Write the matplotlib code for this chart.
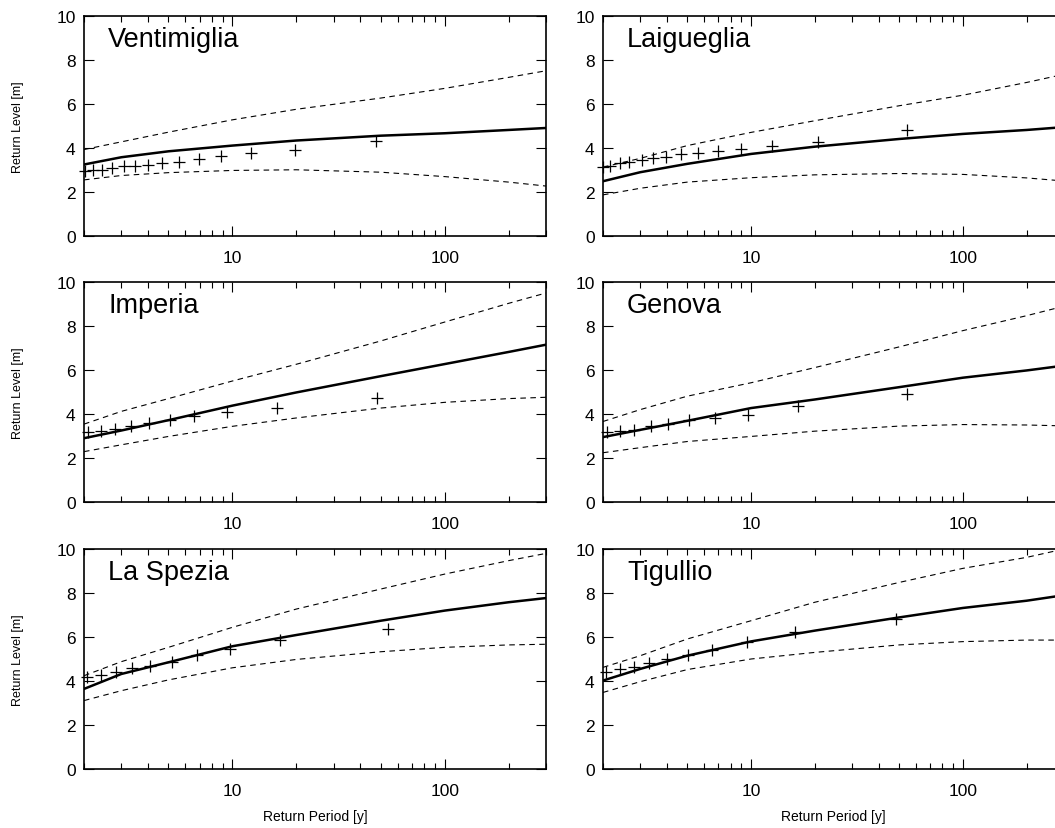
import numpy as np
import matplotlib
matplotlib.use("Agg")
import matplotlib.pyplot as plt
from matplotlib.ticker import LogLocator, FixedLocator, NullFormatter

plt.rcParams["font.family"] = ["Liberation Sans", "DejaVu Sans"]

# return periods at which the fitted curves were read
curve_T = [2, 3, 5, 10, 20, 50, 100, 200, 300]

# Ventimiglia
ventimiglia_T = [2.02, 2.21, 2.44, 2.72, 3.08, 3.49, 4.01, 4.68, 5.61, 6.94, 8.87, 12.3, 19.8, 47.6]
ventimiglia_obs = [2.95, 2.98, 3.02, 3.08, 3.16, 3.20, 3.25, 3.32, 3.38, 3.50, 3.65, 3.78, 3.93, 4.34]
ventimiglia_fit = [3.25, 3.58, 3.85, 4.11, 4.34, 4.56, 4.67, 4.82, 4.91]
ventimiglia_hi = [3.93, 4.28, 4.72, 5.28, 5.76, 6.27, 6.71, 7.21, 7.51]
ventimiglia_lo = [2.55, 2.75, 2.88, 2.98, 3.01, 2.90, 2.70, 2.45, 2.27]

# Laigueglia
laigueglia_T = [2.0, 2.15, 2.40, 2.66, 3.04, 3.46, 3.95, 4.66, 5.61, 6.95, 8.93, 12.6, 20.7, 54.5]
laigueglia_obs = [3.13, 3.20, 3.30, 3.38, 3.45, 3.53, 3.60, 3.71, 3.78, 3.86, 3.96, 4.09, 4.29, 4.82]
laigueglia_fit = [2.49, 2.90, 3.28, 3.73, 4.06, 4.41, 4.64, 4.82, 4.95]
laigueglia_hi = [3.13, 3.53, 4.11, 4.71, 5.24, 5.92, 6.40, 6.98, 7.35]
laigueglia_lo = [1.87, 2.17, 2.45, 2.65, 2.78, 2.84, 2.80, 2.64, 2.50]

# Imperia
imperia_T = [2.09, 2.41, 2.79, 3.32, 4.05, 5.08, 6.62, 9.46, 16.2, 47.9]
imperia_obs = [3.18, 3.25, 3.30, 3.45, 3.59, 3.73, 3.89, 4.08, 4.26, 4.73]
imperia_fit = [2.90, 3.25, 3.72, 4.38, 4.98, 5.72, 6.27, 6.82, 7.15]
imperia_hi = [3.54, 4.12, 4.70, 5.50, 6.26, 7.32, 8.18, 9.03, 9.50]
imperia_lo = [2.29, 2.60, 2.98, 3.44, 3.82, 4.27, 4.53, 4.70, 4.76]

# Genova
genova_T = [2.09, 2.40, 2.80, 3.37, 4.07, 5.11, 6.74, 9.64, 16.6, 54.3]
genova_obs = [3.16, 3.21, 3.28, 3.44, 3.56, 3.71, 3.82, 3.97, 4.35, 4.93]
genova_fit = [2.95, 3.28, 3.69, 4.27, 4.66, 5.22, 5.65, 5.98, 6.20]
genova_hi = [3.66, 4.20, 4.81, 5.42, 6.11, 7.05, 7.79, 8.47, 8.90]
genova_lo = [2.24, 2.47, 2.75, 2.98, 3.22, 3.45, 3.52, 3.50, 3.46]

# La Spezia
laspezia_T = [2.07, 2.41, 2.84, 3.35, 4.08, 5.17, 6.80, 9.71, 16.7, 54.2]
laspezia_obs = [4.17, 4.27, 4.39, 4.59, 4.70, 4.85, 5.20, 5.45, 5.88, 6.36]
laspezia_fit = [3.64, 4.32, 4.85, 5.58, 6.09, 6.74, 7.20, 7.58, 7.77]
laspezia_hi = [4.24, 4.88, 5.53, 6.44, 7.27, 8.18, 8.86, 9.47, 9.80]
laspezia_lo = [3.11, 3.56, 4.05, 4.60, 4.98, 5.33, 5.53, 5.64, 5.67]

# Tigullio
tigullio_T = [2.07, 2.40, 2.80, 3.30, 4.01, 5.03, 6.57, 9.53, 16.1, 48.2]
tigullio_obs = [4.39, 4.55, 4.65, 4.82, 5.00, 5.20, 5.41, 5.76, 6.21, 6.82]
tigullio_fit = [4.02, 4.55, 5.15, 5.80, 6.29, 6.89, 7.32, 7.65, 7.90]
tigullio_hi = [4.62, 5.15, 5.91, 6.74, 7.58, 8.48, 9.12, 9.62, 10.0]
tigullio_lo = [3.48, 3.97, 4.52, 5.00, 5.30, 5.64, 5.79, 5.86, 5.86]

sites = [
    ("Ventimiglia", ventimiglia_T, ventimiglia_obs, ventimiglia_fit, ventimiglia_hi, ventimiglia_lo),
    ("Laigueglia", laigueglia_T, laigueglia_obs, laigueglia_fit, laigueglia_hi, laigueglia_lo),
    ("Imperia", imperia_T, imperia_obs, imperia_fit, imperia_hi, imperia_lo),
    ("Genova", genova_T, genova_obs, genova_fit, genova_hi, genova_lo),
    ("La Spezia", laspezia_T, laspezia_obs, laspezia_fit, laspezia_hi, laspezia_lo),
    ("Tigullio", tigullio_T, tigullio_obs, tigullio_fit, tigullio_hi, tigullio_lo),
]

W, H = 1055, 829
fig = plt.figure(figsize=(W / 100, H / 100), dpi=100)

# panel layout in pixels (right column runs past the image edge, as in the original)
col_left = [84, 603]
col_width = [462, 461]
row_bottom = [237, 503, 770]
ax_h = 220

for i, (name, T, obs, fit, hi, lo) in enumerate(sites):
    r, c = divmod(i, 2)
    ax = fig.add_axes([col_left[c] / W, (H - row_bottom[r]) / H,
                       col_width[c] / W, ax_h / H])
    ax.set_xscale("log")
    ax.set_xlim(2, 300)
    ax.set_ylim(0, 10)

    ax.plot(curve_T, fit, color="black", lw=1.8)
    ax.plot(curve_T, hi, color="black", lw=0.8, linestyle=(0, (5, 4)))
    ax.plot(curve_T, lo, color="black", lw=0.8, linestyle=(0, (5, 4)))
    ax.plot(T, obs, linestyle="none", marker="+", color="black",
            markersize=9, markeredgewidth=0.9, clip_on=False)

    ax.text(0.052, 0.864, name, transform=ax.transAxes, fontsize=19.5,
            ha="left", va="baseline")

    ax.xaxis.set_major_locator(FixedLocator([10, 100]))
    ax.xaxis.set_major_formatter(plt.FuncFormatter(lambda v, p: f"{v:g}"))
    ax.xaxis.set_minor_locator(LogLocator(base=10, subs=np.arange(2, 10)))
    ax.xaxis.set_minor_formatter(NullFormatter())
    ax.set_yticks([0, 2, 4, 6, 8, 10])
    ax.tick_params(which="both", direction="in", top=True, right=(c == 0),
                   labelsize=12.5, width=0.8)
    ax.tick_params(which="major", length=7)
    ax.tick_params(which="minor", length=4)
    ax.tick_params(axis="y", pad=6)
    ax.tick_params(axis="x", pad=10)
    for sp in ax.spines.values():
        sp.set_linewidth(1.2)

    if c == 0:
        ax.set_ylabel("Return Level [m]", fontsize=9)
        ax.yaxis.set_label_coords(-0.13, 0.5)
    if r == 2:
        ax.set_xlabel("Return Period [y]", fontsize=10, va="top")
        ax.xaxis.set_label_coords(0.5, -0.18)

plt.savefig("out.png", dpi=100)
